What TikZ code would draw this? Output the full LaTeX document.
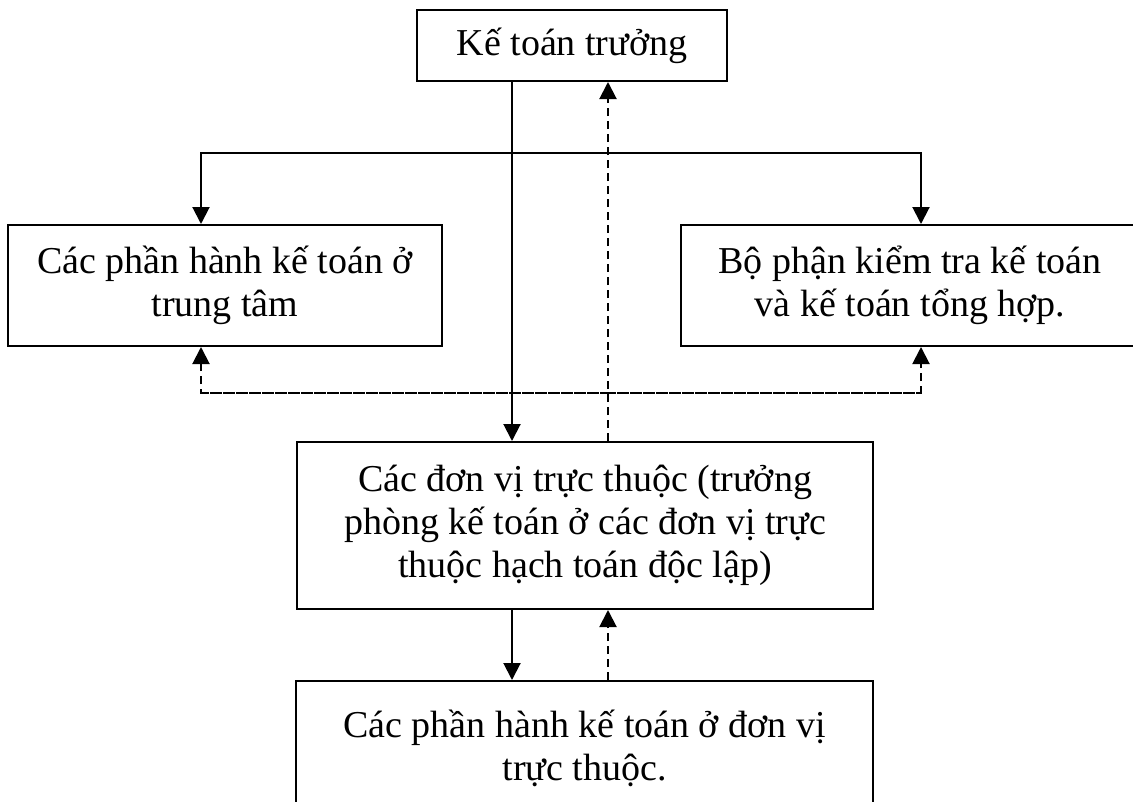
\documentclass[tikz,border=0pt]{standalone}
\usepackage{fontspec}
\setmainfont{Liberation Serif}
\usetikzlibrary{arrows.meta}

\tikzset{
  box/.style={draw, line width=2pt, rectangle, inner sep=0pt, align=center,
    font=\fontsize{38pt}{43pt}\selectfont},
  link/.style={line width=2pt, -{Triangle[width=17pt,length=17pt]}},
  plainlink/.style={line width=2pt},
  dlink/.style={link, dash pattern=on 8pt off 5pt},
  dplain/.style={plainlink, dash pattern=on 8pt off 5pt},
}

\begin{document}
\begin{tikzpicture}[x=1pt, y=-1pt]
  \useasboundingbox (0,0) rectangle (1133,801);
  \clip (0,0) rectangle (1133,801);

  % boxes
  \node[box, minimum width=310pt, minimum height=71pt] (chief) at (572,45.5) {Kế toán trưởng};
  \node[box, minimum width=434pt, minimum height=121pt] (center) at (225,285.5)
    {Các phần hành kế toán ở\\trung tâm};
  \node[box, minimum width=458pt, minimum height=121pt] (audit) at (910,285.5)
    {Bộ phận kiểm tra kế toán\\và kế toán tổng hợp.};
  \node[box, minimum width=576pt, minimum height=167pt] (units) at (585,525.5)
    {Các đơn vị trực thuộc (trưởng\\phòng kế toán ở các đơn vị trực\\thuộc hạch toán độc lập)};
  \node[box, minimum width=577pt, minimum height=134pt] (parts) at (584.5,748)
    {Các phần hành kế toán ở đơn vị\\trực thuộc.};

  % columns and junctions of the connectors
  \coordinate (cmd) at (512,0);
  \coordinate (rep) at (608,0);
  \coordinate (lcol) at (201,0);
  \coordinate (rcol) at (921,0);
  \coordinate (hub) at (512,153);
  \coordinate (dhub) at (608,393);

  % direction (solid)
  \draw[link] (chief.south -| cmd) -- (units.north -| cmd);
  \draw[plainlink] (lcol |- hub) -- (rcol |- hub);
  \draw[link] (hub) -| (center.north -| lcol);
  \draw[link] (hub) -| (audit.north -| rcol);
  \draw[link] (units.south -| cmd) -- (parts.north -| cmd);

  % reporting (dashed)
  \draw[dlink] (units.north -| rep) -- (chief.south -| rep);
  \draw[dplain] (lcol |- dhub) -- (rcol |- dhub);
  \draw[dlink] (dhub) -| (center.south -| lcol);
  \draw[dlink] (dhub) -| (audit.south -| rcol);
  \draw[dlink] (parts.north -| rep) -- (units.south -| rep);
\end{tikzpicture}
\end{document}
